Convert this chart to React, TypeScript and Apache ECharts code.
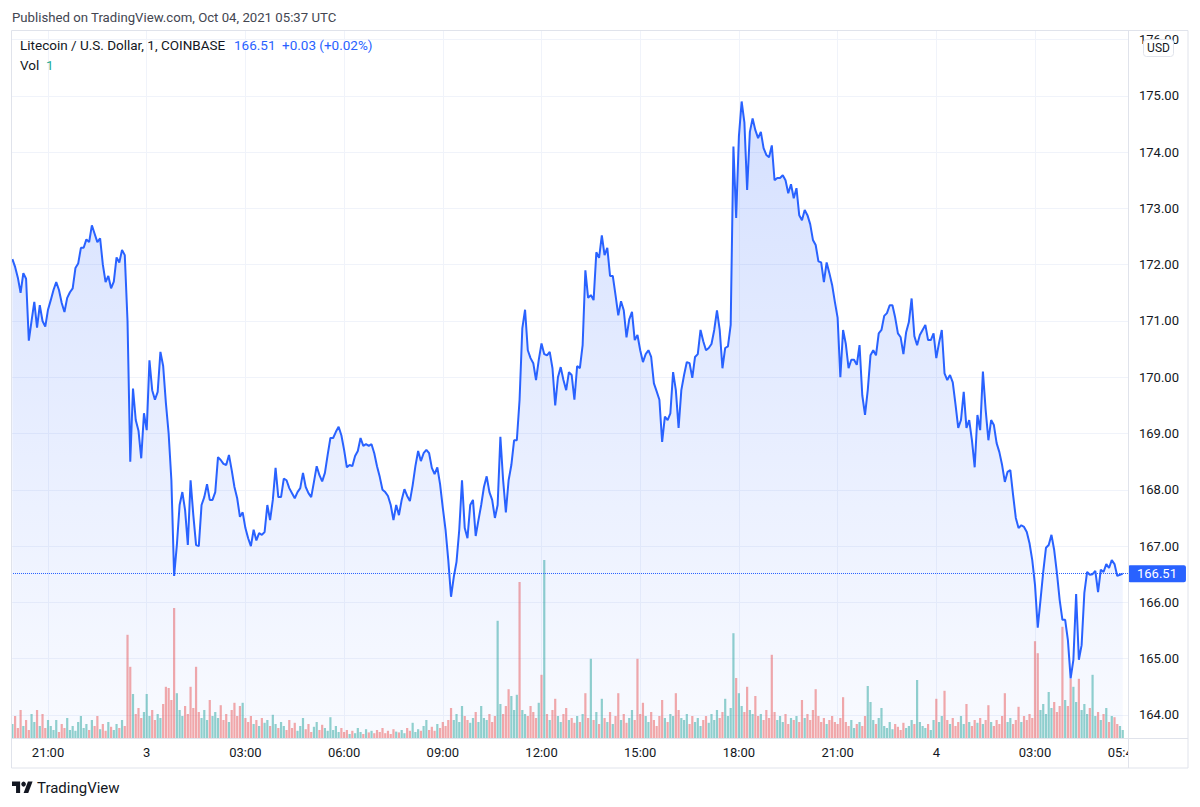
import React, { useEffect, useRef } from "react";
import * as echarts from "echarts";

// Time is measured in minutes since 2021-10-02 00:00 UTC; one reading every 5 minutes.
const START_MINUTE = 1195; // 19:55 on Oct 2
const STEP_MINUTES = 5;
const LAST_PRICE = 166.51;

// LTC/USD close (one value per 5 minutes)
const PRICES = [
  172.10, 171.96, 171.77, 171.50, 171.85, 171.75, 170.65, 171.00, 171.34, 170.88,
  171.28, 171.00, 170.90, 171.20, 171.37, 171.55, 171.69, 171.55, 171.32, 171.16,
  171.41, 171.51, 171.58, 171.94, 172.02, 172.30, 172.30, 172.45, 172.40, 172.70,
  172.55, 172.40, 172.47, 172.00, 171.69, 171.80, 171.58, 171.70, 172.13, 172.04,
  172.26, 172.17, 171.00, 168.50, 169.80, 169.24, 169.05, 168.56, 169.36, 169.06,
  170.30, 169.77, 169.60, 169.74, 170.45, 170.20, 169.54, 169.00, 168.17, 166.47,
  167.02, 167.73, 167.96, 167.64, 167.02, 168.17, 167.55, 167.02, 167.00, 167.73,
  167.87, 168.10, 167.82, 167.82, 167.96, 168.58, 168.53, 168.46, 168.44, 168.62,
  168.35, 168.05, 167.85, 167.52, 167.60, 167.32, 167.14, 167.00, 167.29, 167.10,
  167.23, 167.20, 167.25, 167.73, 167.46, 167.82, 168.39, 167.87, 167.87, 168.20,
  168.17, 168.03, 167.94, 167.85, 167.96, 168.03, 168.30, 168.05, 167.94, 167.87,
  168.14, 168.42, 168.26, 168.15, 168.30, 168.62, 168.92, 168.92, 169.03, 169.12,
  168.97, 168.71, 168.40, 168.44, 168.42, 168.60, 168.69, 168.92, 168.78, 168.81,
  168.78, 168.81, 168.65, 168.42, 168.23, 168.00, 167.96, 167.89, 167.73, 167.46,
  167.73, 167.55, 167.82, 168.01, 167.89, 167.80, 168.08, 168.42, 168.69, 168.51,
  168.65, 168.71, 168.65, 168.39, 168.28, 168.40, 168.10, 167.68, 167.29, 166.75,
  166.10, 166.45, 166.72, 167.29, 168.17, 167.32, 167.14, 167.73, 167.82, 167.18,
  167.46, 167.73, 168.05, 168.24, 167.96, 167.82, 167.50, 167.73, 168.94, 168.17,
  167.60, 168.17, 168.44, 168.88, 168.88, 169.60, 170.87, 171.20, 170.48, 170.34,
  170.25, 169.95, 170.31, 170.60, 170.41, 170.39, 170.45, 170.16, 169.50, 170.00,
  170.18, 169.95, 169.77, 170.09, 170.04, 169.60, 170.20, 170.16, 170.57, 171.90,
  171.41, 171.46, 171.37, 172.22, 172.12, 172.52, 172.17, 172.30, 171.80, 171.80,
  171.46, 171.10, 171.35, 171.19, 170.71, 171.03, 171.16, 170.66, 170.75, 170.48,
  170.27, 170.41, 170.48, 170.36, 169.89, 169.75, 169.60, 168.85, 169.30, 169.24,
  169.36, 170.09, 169.77, 169.10, 169.77, 170.04, 170.27, 170.25, 169.99, 170.36,
  170.41, 170.84, 170.64, 170.48, 170.52, 170.59, 170.84, 171.19, 170.84, 170.16,
  170.52, 170.55, 170.93, 174.10, 172.83, 174.28, 174.90, 174.53, 173.33, 174.36,
  174.60, 174.39, 174.25, 174.36, 174.07, 173.95, 173.91, 174.12, 173.50, 173.54,
  173.54, 173.59, 173.50, 173.27, 173.43, 173.18, 173.36, 172.88, 172.79, 172.97,
  172.88, 172.72, 172.44, 172.35, 172.06, 172.04, 171.69, 172.04, 171.85, 171.64,
  171.34, 171.06, 170.00, 170.84, 170.59, 170.16, 170.31, 170.31, 170.22, 170.57,
  169.68, 169.33, 169.77, 170.39, 170.48, 170.39, 170.78, 170.84, 171.09, 171.14,
  171.28, 171.28, 171.06, 170.78, 170.71, 170.41, 170.80, 170.98, 171.40, 170.73,
  170.57, 170.75, 170.84, 170.93, 170.66, 170.66, 170.78, 170.34, 170.61, 170.84,
  170.07, 169.95, 170.04, 169.91, 169.52, 169.10, 169.24, 169.74, 169.10, 169.24,
  168.88, 168.40, 169.33, 169.06, 170.10, 169.42, 168.88, 169.24, 169.15, 168.83,
  168.67, 168.44, 168.14, 168.32, 168.35, 167.91, 167.50, 167.32, 167.37, 167.34,
  167.25, 167.05, 166.75, 166.31, 165.55, 166.04, 166.54, 166.97, 167.02, 167.20,
  166.93, 166.52, 166.04, 165.69, 165.69, 165.33, 164.65, 164.98, 166.15, 164.98,
  165.24, 166.17, 166.54, 166.49, 166.50, 166.56, 166.18, 166.58, 166.54, 166.68,
  166.61, 166.75, 166.68, 166.47, 166.49, 166.51,
];

// Volume (LTC) per reading
const VOLUMES = [
  35, 55, 25, 70, 30, 45, 20, 60, 40, 70,
  30, 60, 25, 45, 30, 20, 45, 15, 35, 25,
  50, 20, 30, 18, 40, 55, 25, 35, 20, 45,
  30, 55, 22, 35, 18, 40, 28, 20, 35, 25,
  45, 30, 258, 178, 110, 60, 75, 50, 65, 110,
  55, 70, 45, 60, 50, 85, 128, 125, 95, 325,
  112, 70, 55, 80, 60, 128, 75, 178, 65, 50,
  70, 45, 95, 55, 65, 50, 82, 45, 60, 40,
  70, 88, 55, 80, 88, 50, 40, 55, 35, 45,
  30, 50, 38, 45, 30, 58, 35, 25, 40, 30,
  20, 45, 25, 38, 18, 30, 50, 22, 35, 15,
  28, 40, 20, 33, 25, 18, 52, 20, 30, 15,
  25, 15, 20, 10, 18, 12, 25, 15, 10, 22,
  14, 18, 12, 20, 15, 25, 12, 18, 10, 22,
  16, 14, 20, 12, 25, 18, 38, 15, 22, 18,
  30, 45, 20, 28, 18, 35, 25, 40, 30, 45,
  75, 45, 60, 40, 80, 55, 45, 38, 50, 65,
  40, 80, 50, 45, 60, 40, 55, 293, 85, 60,
  80, 122, 105, 70, 108, 390, 70, 60, 55, 80,
  65, 50, 88, 158, 445, 60, 45, 70, 98, 55,
  40, 60, 75, 45, 50, 38, 55, 40, 60, 112,
  50, 198, 45, 65, 35, 98, 50, 40, 65, 35,
  55, 112, 45, 60, 38, 50, 70, 45, 198, 60,
  88, 55, 40, 65, 45, 30, 55, 95, 50, 40,
  60, 55, 112, 70, 50, 45, 60, 35, 55, 40,
  50, 30, 45, 55, 38, 60, 45, 70, 50, 65,
  98, 55, 75, 262, 150, 112, 80, 65, 128, 70,
  60, 105, 55, 60, 45, 70, 50, 208, 65, 45,
  55, 40, 60, 35, 50, 45, 55, 40, 95, 50,
  60, 45, 70, 122, 55, 40, 50, 35, 45, 55,
  40, 35, 50, 102, 40, 30, 45, 25, 35, 40,
  30, 55, 130, 90, 45, 35, 50, 75, 30, 25,
  40, 22, 35, 28, 20, 38, 25, 30, 45, 35,
  145, 40, 30, 25, 35, 20, 45, 98, 40, 55,
  118, 45, 35, 50, 30, 40, 55, 35, 85, 40,
  30, 45, 38, 50, 35, 45, 82, 40, 30, 45,
  35, 55, 112, 40, 50, 35, 45, 78, 40, 55,
  45, 60, 50, 242, 212, 70, 85, 60, 115, 75,
  90, 65, 80, 278, 95, 80, 148, 128, 90, 148,
  70, 85, 60, 75, 158, 55, 65, 45, 60, 75,
  40, 55, 52, 35, 30, 20,
];

// bars whose candle colour differs from the 5-minute price direction
const VOL_UP_BARS = [49, 194, 330];
const VOL_DOWN_BARS = [65, 181, 185, 193, 209, 228, 277, 303];

const TIME_GRID_VALUES = [1260, 1440, 1620, 1800, 1980, 2160, 2340, 2520, 2700, 2880, 3060];
const TIME_LABEL_VALUES = [1260, 1440, 1620, 1800, 1980, 2160, 2340, 2520, 2700, 2880, 3060, 3222];
const TIME_LABELS = ["21:00", "3", "03:00", "06:00", "09:00", "12:00", "15:00", "18:00", "21:00", "4", "03:00", "05:40"];
const PRICE_TICKS = [164, 165, 166, 167, 168, 169, 170, 171, 172, 173, 174, 175, 176];

const FONT = "Roboto, 'Noto Sans', Arial, sans-serif";
const TEXT = "#131722";
const BLUE = "#2962ff";
const BORDER = "#e0e3eb";
const GRIDC = "#f0f3fa";

export default function App() {
  const ref = useRef<HTMLDivElement | null>(null);

  useEffect(() => {
    if (!ref.current) return;
    const chart = echarts.init(ref.current, undefined, { renderer: "svg" });
    const n = Math.min(PRICES.length, VOLUMES.length);
    const priceData = PRICES.slice(0, n).map((p, i) => [START_MINUTE + i * STEP_MINUTES, p]);
    const volData = VOLUMES.slice(0, n).map((v, i) => {
      let up = i === 0 ? true : PRICES[i] >= PRICES[i - 1];
      if (VOL_UP_BARS.includes(i)) up = true;
      if (VOL_DOWN_BARS.includes(i)) up = false;
      return {
        value: [START_MINUTE + i * STEP_MINUTES, v],
        itemStyle: { color: up ? "rgba(38,166,154,0.5)" : "rgba(239,83,80,0.5)" },
      };
    });

    const option: any = {
      animation: false,
      backgroundColor: "#ffffff",
      textStyle: { fontFamily: FONT },
      grid: { left: 11, top: 30, width: 1117, height: 708, show: false },
      xAxis: {
        type: "value",
        min: 1192.5,
        max: 3229.6,
        axisLine: { show: false },
        axisTick: { show: false, customValues: TIME_GRID_VALUES },
        axisLabel: {
          customValues: TIME_LABEL_VALUES,
          formatter: (v: number) => {
            const k = TIME_LABEL_VALUES.indexOf(v);
            return k >= 0 ? TIME_LABELS[k] : "";
          },
          color: TEXT,
          fontSize: 13,
          fontFamily: FONT,
          margin: 8,
        },
        splitLine: { show: true, lineStyle: { color: GRIDC, width: 1 } },
      },
      yAxis: [
        {
          type: "value",
          position: "right",
          min: 163.59,
          max: 176.17,
          axisLine: { show: false },
          axisTick: { show: false, customValues: PRICE_TICKS },
          axisLabel: {
            customValues: PRICE_TICKS,
            formatter: (v: number) => v.toFixed(2),
            color: TEXT,
            fontSize: 13,
            fontFamily: FONT,
            margin: 11,
          },
          splitLine: { show: true, lineStyle: { color: GRIDC, width: 1 } },
        },
        { type: "value", min: 0, max: 1770, show: false },
      ],
      series: [
        {
          type: "bar",
          yAxisIndex: 1,
          barWidth: 2.2,
          data: volData,
          z: 1,
        },
        {
          type: "line",
          yAxisIndex: 0,
          data: priceData,
          symbol: "none",
          showSymbol: false,
          z: 3,
          lineStyle: { color: BLUE, width: 2 },
          itemStyle: { color: BLUE },
          areaStyle: {
            color: new echarts.graphic.LinearGradient(0, 0, 0, 1, [
              { offset: 0, color: "rgba(41,98,255,0.28)" },
              { offset: 1, color: "rgba(41,98,255,0.04)" },
            ]),
          },
          markLine: {
            silent: true,
            symbol: ["none", "none"],
            data: [{ yAxis: LAST_PRICE }],
            lineStyle: { color: BLUE, type: "dotted", width: 1 },
            label: {
              show: true,
              position: "end",
              distance: 0,
              formatter: LAST_PRICE.toFixed(2),
              color: "#ffffff",
              backgroundColor: BLUE,
              fontSize: 13,
              fontFamily: FONT,
              lineHeight: 13,
              padding: [2, 9, 2, 9],
              borderRadius: 2,
            },
          },
        },
      ],
      graphic: [
        {
          type: "text",
          x: 12,
          y: 17,
          style: {
            text: "Published on TradingView.com, Oct 04, 2021 05:37 UTC",
            fontSize: 13.2,
            fontFamily: FONT,
            fill: "#434651",
            verticalAlign: "middle",
          },
        },
        {
          type: "text",
          x: 20,
          y: 45,
          z: 60,
          style: { text: "Litecoin / U.S. Dollar, 1, COINBASE", fontSize: 13.5, fontFamily: FONT, fill: TEXT, verticalAlign: "middle" },
        },
        {
          type: "text",
          x: 234,
          y: 45,
          z: 60,
          style: { text: "166.51", fontSize: 13.5, fontFamily: FONT, fill: BLUE, verticalAlign: "middle" },
        },
        {
          type: "text",
          x: 282,
          y: 45,
          z: 60,
          style: { text: "+0.03 (+0.02%)", fontSize: 13.5, fontFamily: FONT, fill: BLUE, verticalAlign: "middle" },
        },
        {
          type: "text",
          x: 20,
          y: 65,
          z: 60,
          style: { text: "Vol", fontSize: 13.5, fontFamily: FONT, fill: TEXT, verticalAlign: "middle" },
        },
        {
          type: "text",
          x: 46,
          y: 65,
          z: 60,
          style: { text: "1", fontSize: 13.5, fontFamily: FONT, fill: "#22ab94", verticalAlign: "middle" },
        },
        // cover the clipped part of the last time label
        {
          type: "rect",
          z: 40,
          shape: { x: 1129, y: 739, width: 59, height: 29 },
          style: { fill: "#ffffff" },
        },
        // frame
        {
          type: "rect",
          z: 50,
          shape: { x: 11.5, y: 30.5, width: 1176.5, height: 737.5 },
          style: { fill: "none", stroke: BORDER, lineWidth: 1 },
        },
        {
          type: "line",
          z: 50,
          shape: { x1: 1128.5, y1: 30, x2: 1128.5, y2: 768 },
          style: { stroke: BORDER, lineWidth: 1 },
        },
        {
          type: "line",
          z: 50,
          shape: { x1: 11, y1: 738.5, x2: 1188, y2: 738.5 },
          style: { stroke: BORDER, lineWidth: 1 },
        },
        // currency badge
        {
          type: "rect",
          z: 60,
          shape: { x: 1143.5, y: 39.5, width: 30, height: 17, r: 3 },
          style: { fill: "#ffffff", stroke: BORDER, lineWidth: 1 },
        },
        {
          type: "text",
          z: 61,
          x: 1158.5,
          y: 48,
          style: { text: "USD", fontSize: 12, fontFamily: FONT, fill: TEXT, align: "center", verticalAlign: "middle" },
        },
        // TradingView logo
        {
          type: "group",
          x: 12,
          y: 779,
          scaleX: 0.58,
          scaleY: 0.64,
          children: [
            { type: "polygon", shape: { points: [[14, 22], [7, 22], [7, 11], [0, 11], [0, 4], [14, 4]] }, style: { fill: TEXT } },
            { type: "polygon", shape: { points: [[28, 22], [20, 22], [27.5, 4], [35.5, 4]] }, style: { fill: TEXT } },
            { type: "circle", shape: { cx: 20, cy: 8, r: 4 }, style: { fill: TEXT } },
          ],
        },
        {
          type: "text",
          x: 37,
          y: 788,
          style: { text: "TradingView", fontSize: 15, fontFamily: FONT, fill: TEXT, verticalAlign: "middle" },
        },
      ],
    };

    chart.setOption(option);
    return () => {
      chart.dispose();
    };
  }, []);

  return (
    <div
      ref={ref}
      style={{ position: "absolute", left: 0, top: 0, width: 1200, height: 807, background: "#ffffff" }}
    />
  );
}
